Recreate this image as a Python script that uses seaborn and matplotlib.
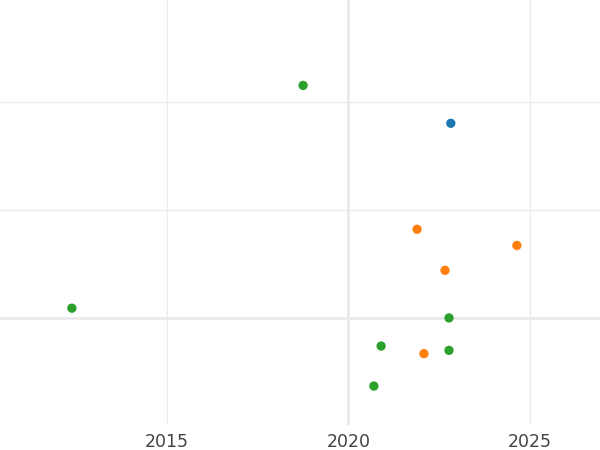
import pandas as pd
import matplotlib.pyplot as plt
import seaborn as sns

# valeurs
annees = [2018.75, 2022.82, 2021.89, 2024.64, 2022.66, 2012.38, 2022.77, 2020.90, 2022.08, 2022.77, 2020.70]
valeurs = [2.15, 1.80, 0.82, 0.67, 0.44, 0.09, 0.0, -0.26, -0.33, -0.30, -0.63]
groupes = ['C', 'A', 'B', 'B', 'B', 'C', 'C', 'C', 'B', 'C', 'C']
couleurs = {'A': '#1f77b4', 'B': '#ff7f0e', 'C': '#2ca02c'}

data = pd.DataFrame({'annee': annees, 'valeur': valeurs, 'groupe': groupes})

sns.set_style('white')
fig = plt.figure(figsize=(6, 4.5), dpi=100)
ax = fig.add_axes([0, 0.0556, 1, 0.9444])

# grille
for x in [2015, 2025]:
    ax.axvline(x, color='#ececec', lw=1, zorder=0)
for y in [1, 2]:
    ax.axhline(y, color='#ececec', lw=1, zorder=0)
ax.axvline(2020, color='#e8e8e8', lw=1.8, zorder=0)
ax.axhline(0, color='#e8e8e8', lw=1.8, zorder=0)

sns.scatterplot(data=data, x='annee', y='valeur', hue='groupe', palette=couleurs,
                s=45, edgecolor='none', legend=False, ax=ax, zorder=3)

ax.set_xlim(2010.4, 2026.93)
ax.set_ylim(-0.99, 2.94)
ax.set_xticks([2015, 2020, 2025])
ax.set_xticklabels(['2015', '2020', '2025'])
ax.set_yticks([])
ax.tick_params(axis='x', length=0, pad=6, labelsize=12.5, labelcolor='#444444')
ax.set_xlabel('')
ax.set_ylabel('')
for s in ax.spines.values():
    s.set_visible(False)

fig.savefig('out.png', dpi=100)
